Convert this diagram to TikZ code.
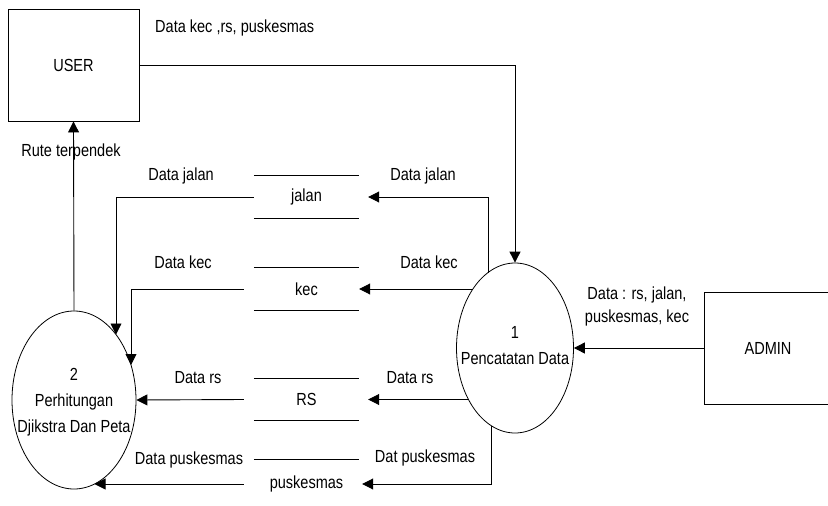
\documentclass[tikz,border=0pt]{standalone}
\usepackage{fontspec}
\setmainfont{Liberation Sans}[FakeStretch=0.83]
\usetikzlibrary{arrows.meta,shapes.geometric}

\tikzset{
  entity/.style={draw, line width=0.9pt, rectangle, inner sep=0pt},
  process/.style={draw, line width=0.8pt, ellipse, inner sep=0pt},
  ptext/.style={inner sep=0pt, align=center, font=\fontsize{17.5}{26}\selectfont},
  store/.style={rectangle, inner sep=0pt, minimum width=105pt, minimum height=42pt},
  storeline/.style={line width=0.9pt},
  flow/.style={line width=0.9pt, -{Triangle[length=11pt,width=11pt]}},
  lbl/.style={inner sep=0pt, align=center}
}

\begin{document}
\begin{tikzpicture}[x=1pt, y=-1pt, every node/.style={font=\fontsize{17.5}{23}\selectfont}]
\useasboundingbox (0,0) rectangle (828,506);

% external entities
\node[entity, minimum width=131pt, minimum height=112pt] (user) at (73.5,65) {USER};
\node[entity, minimum width=128pt, minimum height=112pt] (admin) at (768,348) {ADMIN};

% processes: outline and text kept apart so the text can touch the outline
\node[process, minimum width=117pt, minimum height=170pt] (p1) at (515,348) {};
\node[ptext] (p1t) at (515,346) {1\\Pencatatan Data};
\node[process, minimum width=124pt, minimum height=178pt] (p2) at (74,400) {};
\node[ptext] (p2t) at (74,402) {2\\Perhitungan\\Djikstra Dan Peta};

% points on the process borders where the store flows start or end
\coordinate (p1j) at ([shift={(-27,-75)}]p1.center);
\coordinate (p1k) at ([shift={(-42.1,-59)}]p1.center);
\coordinate (p1r) at ([shift={(-46.5,51.5)}]p1.center);
\coordinate (p1p) at ([shift={(-24,77.5)}]p1.center);
\coordinate (p2j) at ([shift={(42,-65.5)}]p2.center);
\coordinate (p2k) at ([shift={(57,-35)}]p2.center);
\coordinate (p2p) at ([shift={(20.5,84)}]p2.center);

% data stores
\node[store] (jalan) at (306.5,197) {jalan};
\node[store] (kec) at (306.5,289) {kec};
\node[store] (rs) at (306.5,399.5) {RS};
\node[store, minimum height=48pt] (pusk) at (306.5,484) {puskesmas};

\foreach \s in {jalan,kec,rs} {
  \draw[storeline] (\s.north west) -- (\s.north east);
  \draw[storeline] (\s.south west) -- (\s.south east);
}
\draw[storeline] (pusk.north west) -- (pusk.north east);

% flows between entities and processes
\draw[flow] (user.east) -| (p1.north);
\draw[flow] (p2.north) -- (user.south);
\draw[flow] (admin.west) -- (p1.east);

% flows from process 1 into the stores
\draw[flow] (p1j) |- ([xshift=9pt]jalan.east);
\draw[flow] (p1k) -- (kec.east);
\draw[flow] (p1r) -- ([xshift=9pt]rs.east);
\draw[flow] (p1p) |- ([xshift=3pt]pusk.east);

% flows from the stores into process 2
\draw[flow] (jalan.west) -| (p2j);
\draw[flow] ([xshift=-10pt]kec.west) -| (p2k);
\draw[flow] ([xshift=-10pt]rs.west) -- (p2.east);
\draw[flow] ([xshift=-10pt]pusk.west) -- (p2p);

% flow labels
\node[lbl, anchor=west] (lu) at (155,28) {Data kec ,rs, puskesmas};
\node[lbl] (lr) at (71,152) {Rute terpendek};
\node[lbl] (ljl) at (181,176) {Data jalan};
\node[lbl] (ljr) at (423,176) {Data jalan};
\node[lbl] (lkl) at (183,262) {Data kec};
\node[lbl] (lkr) at (429,262) {Data kec};
\node[lbl] (lrl) at (198,378) {Data rs};
\node[lbl] (lrr) at (410,378) {Data rs};
\node[lbl] (lpl) at (189,460) {Data puskesmas};
\node[lbl] (lpr) at (425,458) {Dat puskesmas};
\node[lbl] (la) at (637,306) {Data : rs, jalan,\\puskesmas, kec};
\end{tikzpicture}
\end{document}
